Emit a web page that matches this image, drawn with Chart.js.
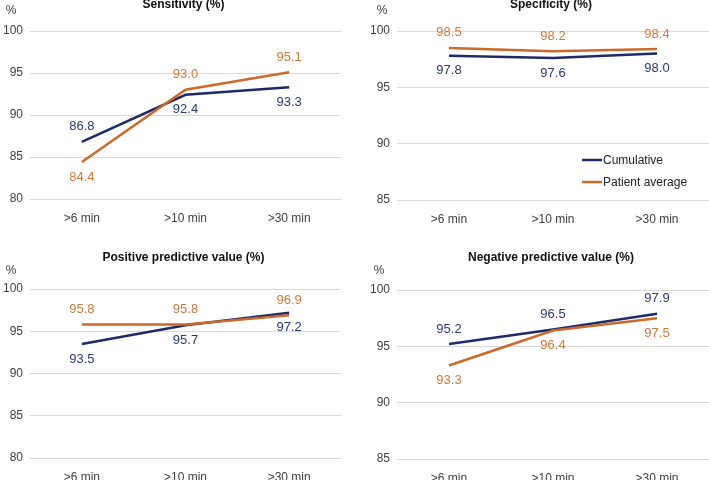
<!DOCTYPE html>
<html lang="en">
<head>
  <meta charset="UTF-8" />
  <title>Sensitivity, specificity, PPV and NPV</title>
  <script src="https://cdn.jsdelivr.net/npm/chart.js"></script>
  <style>
    html, body { margin: 0; padding: 0; background: #fff; }
    body { width: 709px; height: 480px; position: relative; overflow: hidden; }
    .panel { position: absolute; }
  </style>
</head>
<body>
  <canvas id="sens" class="panel" width="355" height="240" style="left:0;top:0"></canvas>
  <canvas id="spec" class="panel" width="354" height="240" style="left:355px;top:0"></canvas>
  <canvas id="ppv" class="panel" width="355" height="240" style="left:0;top:240px"></canvas>
  <canvas id="npv" class="panel" width="354" height="240" style="left:355px;top:240px"></canvas>

  <script>
    // data
    const categories = ['>6 min', '>10 min', '>30 min'];
    const seriesNames = ['Cumulative', 'Patient average'];

    const sensCumulative = [86.8, 92.4, 93.3];
    const sensPatient = [84.4, 93.0, 95.1];
    const specCumulative = [97.8, 97.6, 98.0];
    const specPatient = [98.5, 98.2, 98.4];
    const ppvCumulative = [93.5, 95.7, 97.2];
    const ppvPatient = [95.8, 95.8, 96.9];
    const npvCumulative = [95.2, 96.5, 97.9];
    const npvPatient = [93.3, 96.4, 97.5];

    const FONT = "'Liberation Sans', Arial, Helvetica, sans-serif";
    const NAVY = '#1d2b68';
    const ORANGE = '#cc6a2b';
    const NAVY_TEXT = '#2a3a78';
    const ORANGE_TEXT = '#d4783a';

    // draws panel title, the "%" unit, value labels and (optionally) legend
    const decorations = {
      id: 'decorations',
      afterDatasetsDraw(chart, args, opts) {
        const ctx = chart.ctx;
        const area = chart.chartArea;
        ctx.save();
        ctx.textBaseline = 'middle';

        // title
        ctx.font = 'bold 12px ' + FONT;
        ctx.fillStyle = '#111';
        ctx.textAlign = 'center';
        ctx.fillText(opts.title, (area.left + area.right) / 2 - 2, opts.titleY);

        // unit
        ctx.font = '12px ' + FONT;
        ctx.fillStyle = '#404040';
        ctx.fillText('%', opts.unitX, opts.unitY);

        // value labels
        ctx.font = '13px ' + FONT;
        chart.data.datasets.forEach((ds, i) => {
          const meta = chart.getDatasetMeta(i);
          ctx.fillStyle = i === 0 ? NAVY_TEXT : ORANGE_TEXT;
          meta.data.forEach((pt, j) => {
            const dy = opts.labelPos[i][j] === 'up' ? -15 : 15;
            ctx.fillText(ds.data[j].toFixed(1), pt.x, pt.y + dy);
          });
        });

        // legend
        if (opts.legend) {
          ctx.font = '12px ' + FONT;
          ctx.textAlign = 'left';
          chart.data.datasets.forEach((ds, i) => {
            const y = opts.legend.y + i * opts.legend.gap;
            ctx.strokeStyle = ds.borderColor;
            ctx.lineWidth = 2.5;
            ctx.beginPath();
            ctx.moveTo(opts.legend.x, y);
            ctx.lineTo(opts.legend.x + 20, y);
            ctx.stroke();
            ctx.fillStyle = '#222';
            ctx.fillText(ds.label, opts.legend.x + 21, y + 1);
          });
        }
        ctx.restore();
      }
    };

    function makePanel(id, cfg) {
      new Chart(document.getElementById(id), {
        type: 'line',
        data: {
          labels: categories,
          datasets: [
            { label: seriesNames[0], data: cfg.cumulative, borderColor: NAVY, order: 1 },
            { label: seriesNames[1], data: cfg.patient, borderColor: ORANGE, order: 0 }
          ]
        },
        options: {
          responsive: false,
          animation: false,
          devicePixelRatio: 1,
          elements: {
            line: { borderWidth: 2.5, tension: 0, fill: false },
            point: { radius: 0, hoverRadius: 0 }
          },
          layout: { padding: { top: cfg.padTop, right: cfg.padRight, left: 0, bottom: 0 } },
          scales: {
            x: {
              offset: true,
              grid: { display: false, drawTicks: false },
              border: { display: false },
              ticks: { color: '#404040', font: { family: FONT, size: 12 }, padding: 12, maxRotation: 0 },
              afterFit: s => { s.height = cfg.xHeight; }
            },
            y: {
              min: cfg.min,
              max: 100,
              grid: { color: '#d9d9d9', lineWidth: 1, drawTicks: false },
              border: { display: false },
              ticks: { stepSize: 5, color: '#404040', font: { family: FONT, size: 12 }, padding: 7 },
              afterFit: s => { s.width = cfg.yWidth; }
            }
          },
          plugins: {
            legend: { display: false },
            tooltip: { enabled: false },
            decorations: {
              title: cfg.title,
              titleY: cfg.titleY,
              unitX: cfg.unitX,
              unitY: cfg.unitY,
              labelPos: cfg.labelPos,
              legend: cfg.legend || null
            }
          }
        },
        plugins: [decorations]
      });
    }

    makePanel('sens', {
      title: 'Sensitivity (%)', cumulative: sensCumulative, patient: sensPatient, min: 80,
      padTop: 31, padRight: 14, yWidth: 30, xHeight: 41, titleY: 5, unitX: 11, unitY: 11,
      labelPos: [['up', 'down', 'down'], ['down', 'up', 'up']]
    });
    makePanel('spec', {
      title: 'Specificity (%)', cumulative: specCumulative, patient: specPatient, min: 85,
      padTop: 31, padRight: 0, yWidth: 42, xHeight: 40, titleY: 5, unitX: 27, unitY: 11,
      labelPos: [['down', 'down', 'down'], ['up', 'up', 'up']],
      legend: { x: 227, y: 160, gap: 22 }
    });
    makePanel('ppv', {
      title: 'Positive predictive value (%)', cumulative: ppvCumulative, patient: ppvPatient, min: 80,
      padTop: 49, padRight: 14, yWidth: 30, xHeight: 22, titleY: 18, unitX: 11, unitY: 31,
      labelPos: [['down', 'down', 'down'], ['up', 'up', 'up']]
    });
    makePanel('npv', {
      title: 'Negative predictive value (%)', cumulative: npvCumulative, patient: npvPatient, min: 85,
      padTop: 50, padRight: 0, yWidth: 42, xHeight: 21, titleY: 18, unitX: 24, unitY: 31,
      labelPos: [['up', 'up', 'up'], ['down', 'down', 'down']]
    });
  </script>
</body>
</html>
